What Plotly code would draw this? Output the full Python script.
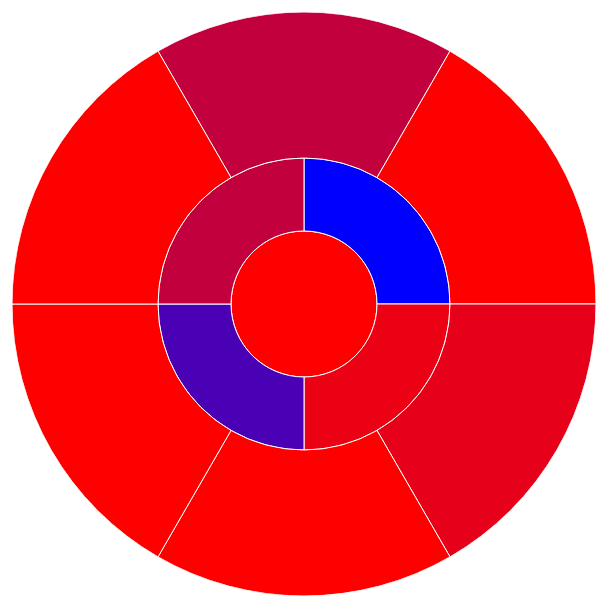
import plotly.graph_objects as go

# Ring 0 (center), ring 1 (4 quarters), ring 2 (6 sextants)
theta = [0, 45, 135, 225, 315, 0, 60, 120, 180, 240, 300]
width = [360, 90, 90, 90, 90, 60, 60, 60, 60, 60, 60]
base = [0, 1, 1, 1, 1, 2, 2, 2, 2, 2, 2]
r = [1, 1, 1, 1, 1, 2, 2, 2, 2, 2, 2]
values = [1.0, 0.0, 0.92, 0.29, 0.76, 0.76, 1.0, 0.9, 1.0, 1.0, 1.0]

fig = go.Figure(go.Barpolar(
    theta=theta, width=width, base=base, r=r,
    marker=dict(color=values, colorscale="Bluered", cmin=0, cmax=1,
                line=dict(color="white", width=1)),
    hoverinfo="none",
))
fig.update_layout(
    width=592, height=592,
    margin=dict(l=4, r=4, t=4, b=4),
    paper_bgcolor="white",
    showlegend=False,
    polar=dict(
        bgcolor="white",
        radialaxis=dict(visible=False, range=[0, 4]),
        angularaxis=dict(visible=False, direction="clockwise", rotation=90),
        bargap=0,
    ),
)
fig.write_html("out.html")
